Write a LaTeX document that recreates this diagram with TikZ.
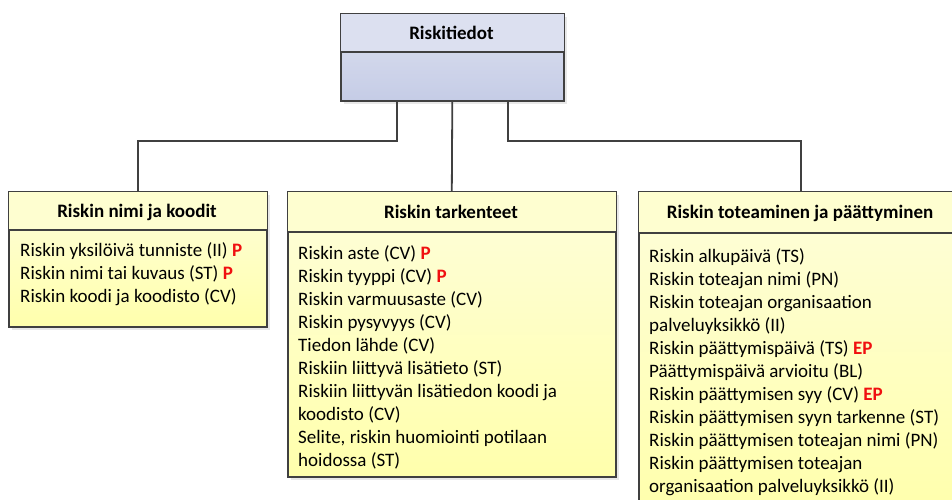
\documentclass[tikz,border=0pt]{standalone}
\usepackage{fontspec}
\setmainfont{Carlito}
\usetikzlibrary{shadows}
\definecolor{edgegray}{HTML}{404040}
\definecolor{bluehead}{HTML}{DCE0F0}
\definecolor{bluetop}{HTML}{DDE1F0}
\definecolor{bluebot}{HTML}{C5CCE6}
\definecolor{yelhead}{HTML}{FEFED0}
\definecolor{yeltop}{HTML}{FEFEDA}
\definecolor{yelbot}{HTML}{FFFFAC}
\definecolor{mark}{HTML}{F01010}
\newcommand{\req}[1]{\textcolor{mark}{\textbf{#1}}}
\begin{document}
\begin{tikzpicture}[x=1pt,y=-1pt,
  entity/.style={draw=edgegray, line width=1.6pt, anchor=north west, inner sep=0pt,
    drop shadow={shadow xshift=3pt, shadow yshift=-3pt, fill=black!18}},
  blueent/.style={entity, top color=bluetop, bottom color=bluebot},
  yelent/.style={entity, top color=yeltop, bottom color=yelbot},
  divider/.style={draw=edgegray, line width=1.6pt},
  link/.style={draw=edgegray, line width=1.8pt},
  title/.style={font=\bfseries\fontsize{19}{22}\selectfont, inner sep=0pt},
  items/.style={font=\fontsize{19}{23}\selectfont, align=left, anchor=base west, inner sep=0pt}]
\useasboundingbox (0,0) rectangle (952,499);
\clip (0,0) rectangle (952,499);

% root entity
\node[blueent, minimum width=223pt, minimum height=87pt] (root) at (340,13) {};
\fill[bluehead] ([shift={(0.8pt,-0.8pt)}]root.north west) rectangle ([shift={(-0.8pt,-39pt)}]root.north east);
\draw[divider] ([yshift=-39pt]root.north west) -- ([yshift=-39pt]root.north east);
\node[title] (roottitle) at (451.5,33) {Riskitiedot};

% child entities
\node[yelent, minimum width=258pt, minimum height=135pt] (names) at (8,191) {};
\node[yelent, minimum width=328pt, minimum height=285pt] (details) at (287,191) {};
\node[yelent, minimum width=324pt, minimum height=320pt] (ending) at (638,191) {};

\foreach \b/\d in {names/39, details/41, ending/42}{
  \fill[yelhead] ([shift={(0.8pt,-0.8pt)}]\b.north west) rectangle ([shift={(-0.8pt,-\d pt)}]\b.north east);
  \draw[divider] ([yshift=-\d pt]\b.north west) -- ([yshift=-\d pt]\b.north east);
}

% titles
\node[title] (namestitle) at (137,212) {Riskin nimi ja koodit};
\node[title] (detailstitle) at (451,212) {Riskin tarkenteet};
\node[title] (endingtitle) at (800,213) {Riskin toteaminen ja päättyminen};

% attribute lists (placed by the baseline of their last line)
\node[items] (nameslist) at (20,302) {Riskin yksilöivä tunniste (II) \req{P}\\
Riskin nimi tai kuvaus (ST) \req{P}\\
Riskin koodi ja koodisto (CV)};

\node[items] (detailslist) at (298,466) {Riskin aste (CV) \req{P}\\
Riskin tyyppi (CV) \req{P}\\
Riskin varmuusaste (CV)\\
Riskin pysyvyys (CV)\\
Tiedon lähde (CV)\\
Riskiin liittyvä lisätieto (ST)\\
Riskiin liittyvän lisätiedon koodi ja\\
koodisto (CV)\\
Selite, riskin huomiointi potilaan\\
hoidossa (ST)};

\node[items] (endinglist) at (649,492) {Riskin alkupäivä (TS)\\
Riskin toteajan nimi (PN)\\
Riskin toteajan organisaation\\
palveluyksikkö (II)\\
Riskin päättymispäivä (TS) \req{EP}\\
Päättymispäivä arvioitu (BL)\\
Riskin päättymisen syy (CV) \req{EP}\\
Riskin päättymisen syyn tarkenne (ST)\\
Riskin päättymisen toteajan nimi (PN)\\
Riskin päättymisen toteajan\\
organisaation palveluyksikkö (II)};

% connectors
\draw[link] ([xshift=-55.5pt]root.south) -- ++(0,39) -| (names.north);
\draw[link] (root.south) -- (details.north);
\draw[link] ([xshift=55.5pt]root.south) -- ++(0,39) -| (ending.north);
\end{tikzpicture}
\end{document}
